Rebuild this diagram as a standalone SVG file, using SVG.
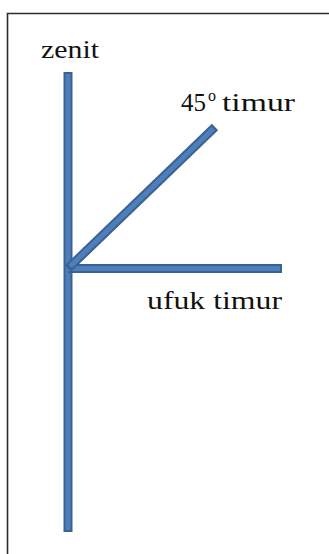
<svg xmlns="http://www.w3.org/2000/svg" width="329" height="554" viewBox="0 0 329 554">
  <style>
    .frame { fill: none; stroke: #2e2e2e; stroke-width: 1.6; }
    .bar-edge { stroke: #3a6292; stroke-width: 9; stroke-linecap: butt; fill: none; }
    .bar-fill { stroke: #4f7fbb; stroke-width: 5; stroke-linecap: butt; fill: none; }
    .label { font-family: "Liberation Serif", "Times New Roman", serif; font-size: 26px; fill: #111; }
  </style>
  <rect width="329" height="554" fill="#ffffff"/>
  <!-- page frame (top and left edges) -->
  <path class="frame" d="M7.5,554 V13.5 H329"/>

  <g id="connectors">
    <!-- vertical axis -->
    <g id="axis-vertical">
      <line class="bar-edge" x1="68" y1="72" x2="68" y2="532"/>
      <line class="bar-fill" x1="68" y1="74" x2="68" y2="530"/>
    </g>
    <!-- horizon east -->
    <g id="axis-horizon">
      <line class="bar-edge" x1="68" y1="268.5" x2="282" y2="268.5"/>
      <line class="bar-fill" x1="68" y1="268.5" x2="280" y2="268.5"/>
    </g>
    <!-- 45 degree east -->
    <g id="axis-45">
      <line class="bar-edge" x1="68" y1="268.5" x2="215" y2="127"/>
      <line class="bar-fill" x1="70" y1="266.5" x2="213.5" y2="128.5"/>
    </g>
  </g>

  <g id="label-zenit">
    <text class="label" x="41" y="58" textLength="58" lengthAdjust="spacingAndGlyphs">zenit</text>
  </g>
  <g id="label-45">
    <text class="label" x="181" y="111"><tspan textLength="25" lengthAdjust="spacingAndGlyphs">45</tspan><tspan x="208" font-size="16" dy="-10">o</tspan><tspan x="222" dy="10" textLength="73" lengthAdjust="spacingAndGlyphs">timur</tspan></text>
  </g>
  <g id="label-ufuk">
    <text class="label" x="147" y="309" textLength="135" lengthAdjust="spacingAndGlyphs">ufuk timur</text>
  </g>
</svg>
